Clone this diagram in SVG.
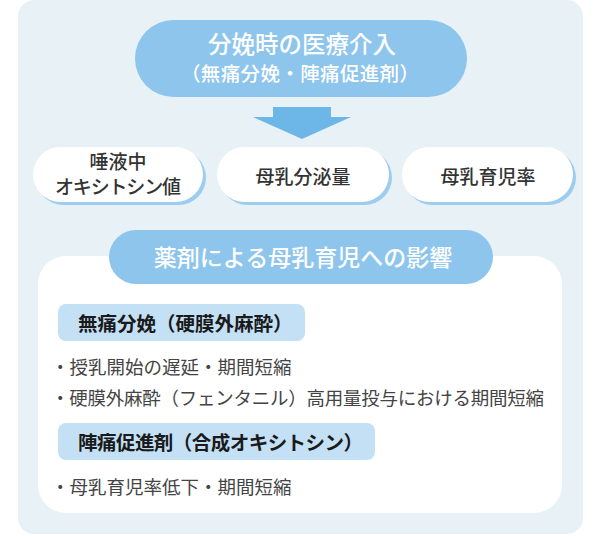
<svg xmlns="http://www.w3.org/2000/svg" width="600" height="536" viewBox="0 0 600 536">
<style>
text{font-family:"Noto Sans CJK JP","Noto Sans CJK SC",sans-serif;}
.pill{fill:#8dc5ec;}
.pt{fill:#fff;font-weight:500;text-anchor:middle;}
.box{fill:#fff;}
.shadow{fill:#9ccdf0;}
.bt{fill:#333;font-size:19px;font-weight:500;text-anchor:middle;}
.sub{fill:#c4e0f5;}
.st{fill:#1a1a1a;font-size:19.5px;font-weight:700;}
.li{fill:#444;font-size:18.5px;font-weight:400;}
</style>
<rect x="18" y="0" width="565" height="534" rx="16" fill="#e8f2f6"/>
<g id="connectors">
<polygon points="273,107 331,107 331,117 351,117 302,139 253,117 273,117" fill="#6cb6e8"/>
</g>
<g id="node-top">
<rect class="pill" x="135" y="20" width="332" height="77" rx="38.5"/>
<text class="pt" x="302" y="53" font-size="23.5">分娩時の医療介入</text>
<text class="pt" x="300" y="81" font-size="19.5" font-weight="400" textLength="238">（無痛分娩・陣痛促進剤）</text>
</g>
<g id="node-oxytocin">
<rect class="shadow" x="36" y="150" width="170" height="55" rx="27.5"/>
<rect class="box" x="33" y="147" width="170" height="55" rx="27.5"/>
<text class="bt" x="118" y="169">唾液中</text>
<text class="bt" x="118" y="194" textLength="126">オキシトシン値</text>
</g>
<g id="node-milk">
<rect class="shadow" x="220" y="150" width="172" height="55" rx="27.5"/>
<rect class="box" x="217" y="147" width="172" height="55" rx="27.5"/>
<text class="bt" x="303" y="184">母乳分泌量</text>
</g>
<g id="node-rate">
<rect class="shadow" x="405" y="150" width="171" height="55" rx="27.5"/>
<rect class="box" x="402" y="147" width="171" height="55" rx="27.5"/>
<text class="bt" x="488" y="184">母乳育児率</text>
</g>
<g id="node-effects">
<rect x="38" y="256" width="524" height="257" rx="28" fill="#fff"/>
<rect class="pill" x="109" y="230" width="384" height="54" rx="27"/>
<text class="pt" x="303" y="266" font-size="23">薬剤による母乳育児への影響</text>
</g>
<g id="node-epidural">
<rect class="sub" x="58" y="304" width="247" height="37" rx="8"/>
<text class="st" x="78" y="331">無痛分娩（硬膜外麻酔）</text>
<text class="li" x="51" y="374">・授乳開始の遅延・期間短縮</text>
<text class="li" x="51" y="405" textLength="493">・硬膜外麻酔（フェンタニル）高用量投与における期間短縮</text>
</g>
<g id="node-induction">
<rect class="sub" x="58" y="423" width="317" height="37" rx="8"/>
<text class="st" x="78" y="450" textLength="285">陣痛促進剤（合成オキシトシン）</text>
<text class="li" x="51" y="494">・母乳育児率低下・期間短縮</text>
</g>
</svg>
